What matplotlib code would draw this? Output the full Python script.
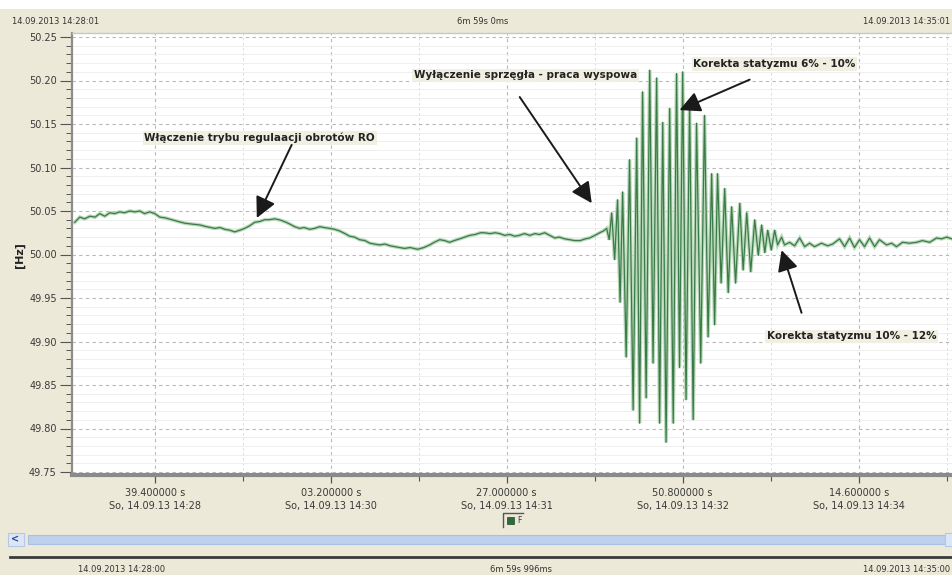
import numpy as np
import matplotlib.pyplot as plt
from matplotlib.patches import Rectangle
from matplotlib.lines import Line2D

# time axis: seconds after 14.09.2013 14:28:00, frequency in Hz
t_before = [1.3, 3.7, 6.0, 8.5, 11.0, 13.2, 15.6, 18.0, 20.3, 22.7, 25.0, 27.5,
            30.0, 32.3, 34.6, 37.0, 39.4, 41.8, 44.5, 47.5, 50.5, 53.7, 57.0,
            60.8, 64.0, 68.0, 70.5, 72.7, 75.0, 77.5, 80.0, 82.2, 84.6, 87.0,
            89.5, 91.8, 94.0, 96.5, 98.5, 99.9, 102.0, 103.7, 106.0, 108.4,
            110.5, 113.2, 115.5, 118.0, 120.0, 122.7, 125.0, 127.5, 130.0,
            132.2, 134.5, 137.0, 139.5, 141.8, 144.0, 146.5, 149.0, 151.5,
            153.7, 156.0, 158.4, 161.0, 164.6, 167.5, 170.3, 172.5, 175.1,
            177.5, 179.8, 182.0, 184.6, 187.0, 189.4, 192.0, 194.5, 196.5,
            199.0, 201.5, 203.7, 206.0, 208.5, 210.8, 213.0, 215.5, 218.0,
            220.5, 222.5, 225.1, 227.5, 229.9, 232.0, 234.6, 237.0, 239.4,
            242.0, 244.5, 246.5, 249.0, 251.3, 253.0, 254.6, 255.8]
f_before = [50.037, 50.043, 50.041, 50.044, 50.043, 50.047, 50.044, 50.048,
            50.047, 50.049, 50.048, 50.050, 50.049, 50.050, 50.047, 50.049,
            50.047, 50.043, 50.042, 50.040, 50.038, 50.036, 50.035, 50.034,
            50.032, 50.030, 50.031, 50.029, 50.028, 50.026, 50.028, 50.030,
            50.033, 50.037, 50.038, 50.040, 50.040, 50.041, 50.040, 50.039,
            50.037, 50.035, 50.032, 50.030, 50.031, 50.029, 50.030, 50.032,
            50.031, 50.030, 50.029, 50.027, 50.024, 50.021, 50.020, 50.017,
            50.016, 50.013, 50.012, 50.011, 50.012, 50.010, 50.009, 50.008,
            50.007, 50.008, 50.006, 50.008, 50.011, 50.014, 50.017, 50.016,
            50.014, 50.016, 50.018, 50.020, 50.022, 50.023, 50.025, 50.025,
            50.024, 50.025, 50.024, 50.022, 50.023, 50.021, 50.022, 50.024,
            50.022, 50.024, 50.023, 50.025, 50.022, 50.019, 50.020, 50.018,
            50.017, 50.016, 50.016, 50.018, 50.019, 50.022, 50.025, 50.027,
            50.030, 50.017]

# island operation swings: peaks and troughs in turn
t_island = [257.0, 258.4, 259.8, 261.0, 262.2, 263.9, 265.5, 267.2, 268.9,
            270.3, 271.7, 273.4, 275.1, 276.7, 278.4, 279.8, 281.3, 282.9,
            284.6, 286.3, 287.9, 289.3, 290.8, 292.4, 294.1, 295.8, 297.4,
            299.4, 301.2, 302.9, 304.6, 306.0, 307.4, 309.1, 310.8, 312.5,
            314.1, 316.0, 318.0, 319.6, 321.3, 323.2, 325.1, 326.8, 328.4,
            329.9, 331.3, 333.0, 334.6, 336.0]
f_island = [50.048, 49.994, 50.063, 49.945, 50.072, 49.882, 50.109, 49.821,
            50.134, 49.806, 50.187, 49.835, 50.212, 49.875, 50.203, 49.806,
            50.152, 49.784, 50.168, 49.806, 50.208, 49.870, 50.210, 49.833,
            50.174, 49.810, 50.151, 49.875, 50.160, 49.905, 50.093, 49.919,
            50.093, 49.967, 50.076, 49.956, 50.055, 49.967, 50.059, 49.982,
            50.048, 49.980, 50.040, 49.999, 50.034, 50.002, 50.028, 50.005,
            50.028, 50.011]

t_after = [337.9, 339.3, 341.7, 344.1, 346.5, 348.9, 351.2, 353.6, 356.9,
           359.8, 362.2, 365.5, 367.9, 370.3, 372.6, 375.0, 377.4, 379.8,
           382.2, 384.5, 387.9, 390.3, 392.6, 395.5, 398.8, 402.2, 405.0,
           408.4, 411.7, 414.1, 416.5, 418.9]
f_after = [50.020, 50.011, 50.014, 50.010, 50.019, 50.009, 50.013, 50.009,
           50.013, 50.010, 50.012, 50.018, 50.009, 50.019, 50.008, 50.017,
           50.009, 50.019, 50.009, 50.017, 50.011, 50.013, 50.009, 50.014,
           50.013, 50.014, 50.016, 50.014, 50.019, 50.018, 50.020, 50.018]

tick_sec = [39.4, 123.2, 207.0, 290.8, 374.6]
tick_frac = ['39.400000', '03.200000', '27.000000', '50.800000', '14.600000']
tick_clock = ['14:28', '14:30', '14:31', '14:32', '14:34']

W, H = 952, 575
BG = '#ECE9D8'


def fx(px):
    return px / W


def fy(py):
    return 1 - py / H


fig = plt.figure(figsize=(W / 100, H / 100), dpi=100, facecolor=BG)

# white strip above the header line
fig.add_artist(Rectangle((0, fy(9)), 1, 1 - fy(9), transform=fig.transFigure,
                         fc='white', ec='none'))

ax = fig.add_axes([fx(72), fy(475), fx(954) - fx(72), fy(33) - fy(475)])
ax.set_facecolor('white')

t_all = t_before + t_island + t_after
f_all = f_before + f_island + f_after
# soft halo under the trace, then the trace itself
ax.plot(t_all, f_all, color='#b9d9b9', lw=2.6, zorder=2, solid_joinstyle='miter')
ax.plot(t_all, f_all, color='#3b7a49', lw=0.9, zorder=3)

ax.set_xlim(0, 420)
ax.set_ylim(50.25 - 438 / 870, 50.25 + 4 / 870)

# x ticks
ax.set_xticks(tick_sec, labels=[f'{a} s\nSo, 14.09.13 {b}'
                                for a, b in zip(tick_frac, tick_clock)])
half = (tick_sec[1] - tick_sec[0]) / 2
ax.set_xticks([s + half for s in tick_sec], minor=True)

# y ticks
ax.set_yticks(np.round(np.arange(49.75, 50.2501, 0.05), 2))
ax.set_yticks(np.round(np.arange(49.75, 50.2501, 0.01), 2), minor=True)
ax.yaxis.set_major_formatter(plt.FormatStrFormatter('%.2f'))

ax.grid(which='major', axis='both', color='#b8b8b8', linestyle=(0, (3, 3)), lw=0.8)
ax.grid(which='minor', axis='y', color='#ededed', linestyle='-', lw=0.6)
ax.grid(which='minor', axis='x', color='#d6d6d6', linestyle=(0, (3, 3)), lw=0.6)
ax.set_axisbelow(True)

ax.tick_params(axis='y', which='major', length=9, width=0.8, color='#555555',
               labelsize=7, labelcolor='#3a3a3a', pad=2)
ax.tick_params(axis='y', which='minor', length=4, width=0.7, color='#555555')
ax.tick_params(axis='x', which='major', length=6, width=0.9, color='#555555',
               labelsize=7, labelcolor='#3a3a3a', pad=3)
ax.tick_params(axis='x', which='minor', length=4, width=0.8, color='#555555')
for lbl in ax.get_xticklabels():
    lbl.set_linespacing(1.45)

ax.spines['left'].set_color('#8c8c8c')
ax.spines['left'].set_linewidth(1.6)
ax.spines['bottom'].set_color('#8a8a8a')
ax.spines['bottom'].set_linewidth(3)
ax.spines['top'].set_color('#c8c8c8')
ax.spines['top'].set_linewidth(1)
ax.spines['right'].set_visible(False)

fig.text(fx(20), fy(255), '[Hz]', rotation=90, weight='bold', size=8,
         ha='center', va='center', color='#222222')

# event notes with arrows
notes = [
    ('Włączenie trybu regulaacji obrotów RO', (89.4, 50.134), (104.6, 50.126), (88.0, 50.042)),
    ('Wyłączenie sprzęgła - praca wyspowa', (216.0, 50.206), (213.2, 50.181), (247.5, 50.059)),
    ('Korekta statyzmu 6% - 10%', (334.6, 50.219), (322.7, 50.201), (289.3, 50.166)),
    ('Korekta statyzmu 10% - 12%', (371.2, 49.906), (347.4, 49.933), (337.9, 50.005)),
]
for text, pos, start, tip in notes:
    ax.text(pos[0], pos[1], text, ha='center', va='center', fontsize=7.5,
            weight='bold', color='#222222', zorder=5,
            bbox=dict(boxstyle='square,pad=0.15', fc='#F1EFE2', ec='none'))
    ax.annotate('', xy=tip, xytext=start, zorder=6,
                arrowprops=dict(arrowstyle='-|>,head_length=0.9,head_width=0.45',
                                color='#1a1a1a', lw=1.4, mutation_scale=14,
                                shrinkA=0, shrinkB=0))

# header and footer texts
small = dict(size=6, color='#333333', va='center')
fig.text(fx(12), fy(21), '14.09.2013 14:28:01', **small)
fig.text(fx(483), fy(21), '6m 59s 0ms', ha='center', **small)
fig.text(fx(950), fy(21), '14.09.2013 14:35:01', ha='right', **small)
fig.text(fx(78), fy(570), '14.09.2013 14:28:00', **small)
fig.text(fx(490), fy(570), '6m 59s 996ms', **small)
fig.text(fx(950), fy(570), '14.09.2013 14:35:00', ha='right', **small)

# legend chip
fig.add_artist(Line2D([fx(503), fx(503), fx(523)], [fy(527), fy(513), fy(513)],
                      transform=fig.transFigure, color='#555555', lw=1))
fig.add_artist(Rectangle((fx(507), fy(524)), fx(7), 7 / H, transform=fig.transFigure,
                         fc='#2f6b3a', ec='#1e4a27', lw=0.5))
fig.text(fx(517), fy(520.5), 'F', size=5.5, color='#333333', va='center')

# scroll bar
fig.add_artist(Rectangle((fx(28), fy(544)), fx(945) - fx(28), 9 / H,
                         transform=fig.transFigure, fc='#BDD0EE', ec='#A9C0E4', lw=0.8))
fig.add_artist(Rectangle((fx(8), fy(546)), fx(16), 13 / H, transform=fig.transFigure,
                         fc='#DCE6F6', ec='#B5C7E6', lw=0.8))
fig.text(fx(15.5), fy(539), '<', size=7, weight='bold', color='#2a4a9a',
         ha='center', va='center')
fig.add_artist(Rectangle((fx(945), fy(546)), fx(9), 13 / H, transform=fig.transFigure,
                         fc='#DCE6F6', ec='#B5C7E6', lw=0.8))

# footer separator
fig.add_artist(Line2D([fx(10), 1], [fy(557), fy(557)], transform=fig.transFigure,
                      color='#3a3a3a', lw=2))

fig.savefig('out.png', dpi=100, facecolor=BG)
